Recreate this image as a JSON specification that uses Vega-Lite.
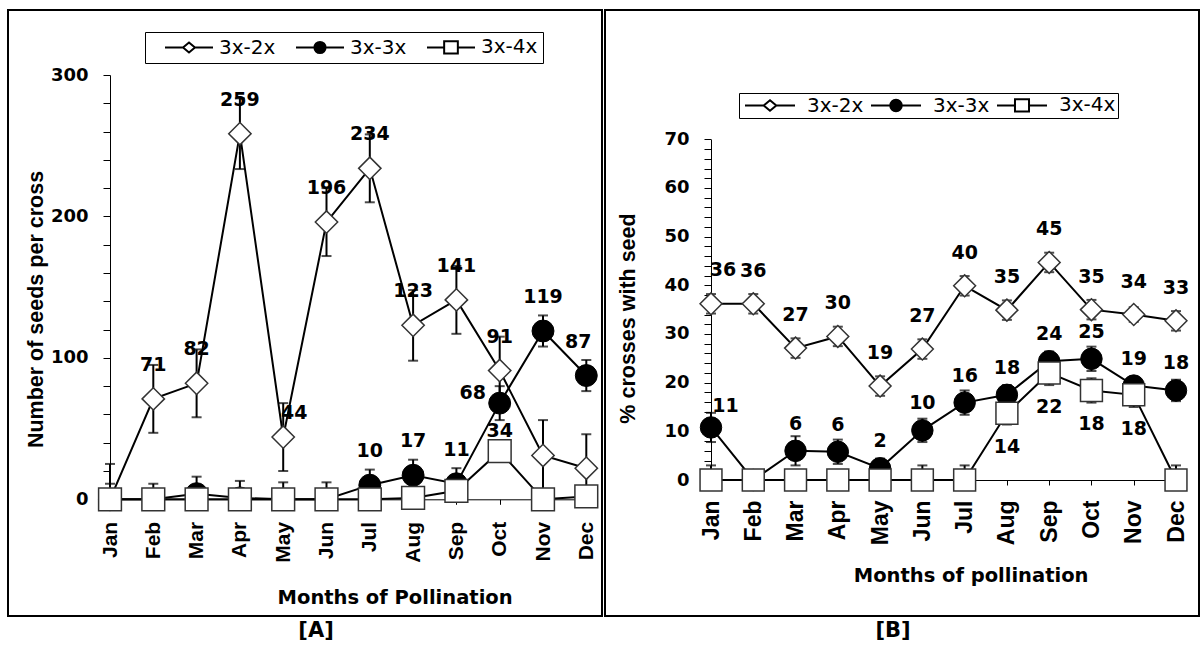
{
  "$schema": "https://vega.github.io/schema/vega-lite/v6.json",
  "background": "white",
  "padding": {"left": 7, "top": 9, "right": 0, "bottom": 0},
  "autosize": {"type": "pad"},
  "spacing": 1,
  "datasets": {
    "A": [
      {"series": "3x-2x", "month": "Jan", "mi": 1, "value": 0, "errhi": 25, "errlo": 0, "label": ""},
      {"series": "3x-2x", "month": "Feb", "mi": 2, "value": 71, "errhi": 24, "errlo": -24, "label": "71"},
      {"series": "3x-2x", "month": "Mar", "mi": 3, "value": 82, "errhi": 24, "errlo": -24, "label": "82"},
      {"series": "3x-2x", "month": "Apr", "mi": 4, "value": 258.5, "errhi": 25, "errlo": -25, "label": "259"},
      {"series": "3x-2x", "month": "May", "mi": 5, "value": 44, "errhi": 24, "errlo": -24, "label": "44"},
      {"series": "3x-2x", "month": "Jun", "mi": 6, "value": 196, "errhi": 24, "errlo": -24, "label": "196"},
      {"series": "3x-2x", "month": "Jul", "mi": 7, "value": 234, "errhi": 24, "errlo": -24, "label": "234"},
      {"series": "3x-2x", "month": "Aug", "mi": 8, "value": 123, "errhi": 25, "errlo": -25, "label": "123"},
      {"series": "3x-2x", "month": "Sep", "mi": 9, "value": 141, "errhi": 24, "errlo": -24, "label": "141"},
      {"series": "3x-2x", "month": "Oct", "mi": 10, "value": 91, "errhi": 24, "errlo": -24, "label": "91"},
      {"series": "3x-2x", "month": "Nov", "mi": 11, "value": 31, "errhi": 25, "errlo": -25, "label": ""},
      {"series": "3x-2x", "month": "Dec", "mi": 12, "value": 22, "errhi": 24, "errlo": -22, "label": ""},
      {"series": "3x-3x", "month": "Jan", "mi": 1, "value": 0, "errhi": 11, "errlo": 0, "label": ""},
      {"series": "3x-3x", "month": "Feb", "mi": 2, "value": 0, "errhi": 11, "errlo": 0, "label": ""},
      {"series": "3x-3x", "month": "Mar", "mi": 3, "value": 4, "errhi": 12, "errlo": -4, "label": ""},
      {"series": "3x-3x", "month": "Apr", "mi": 4, "value": 1, "errhi": 12, "errlo": -1, "label": ""},
      {"series": "3x-3x", "month": "May", "mi": 5, "value": 0, "errhi": 12, "errlo": 0, "label": ""},
      {"series": "3x-3x", "month": "Jun", "mi": 6, "value": 0, "errhi": 12, "errlo": 0, "label": ""},
      {"series": "3x-3x", "month": "Jul", "mi": 7, "value": 10, "errhi": 11, "errlo": -10, "label": "10"},
      {"series": "3x-3x", "month": "Aug", "mi": 8, "value": 17, "errhi": 11, "errlo": -11, "label": "17"},
      {"series": "3x-3x", "month": "Sep", "mi": 9, "value": 11, "errhi": 11, "errlo": -11, "label": "11"},
      {"series": "3x-3x", "month": "Oct", "mi": 10, "value": 68, "errhi": 12, "errlo": -12, "label": "68"},
      {"series": "3x-3x", "month": "Nov", "mi": 11, "value": 119, "errhi": 11, "errlo": -11, "label": "119"},
      {"series": "3x-3x", "month": "Dec", "mi": 12, "value": 87.5, "errhi": 11, "errlo": -11, "label": "87"},
      {"series": "3x-4x", "month": "Jan", "mi": 1, "value": 0, "errhi": 0, "errlo": 0, "label": ""},
      {"series": "3x-4x", "month": "Feb", "mi": 2, "value": 0, "errhi": 0, "errlo": 0, "label": ""},
      {"series": "3x-4x", "month": "Mar", "mi": 3, "value": 0, "errhi": 0, "errlo": 0, "label": ""},
      {"series": "3x-4x", "month": "Apr", "mi": 4, "value": 0, "errhi": 0, "errlo": 0, "label": ""},
      {"series": "3x-4x", "month": "May", "mi": 5, "value": 0, "errhi": 0, "errlo": 0, "label": ""},
      {"series": "3x-4x", "month": "Jun", "mi": 6, "value": 0, "errhi": 0, "errlo": 0, "label": ""},
      {"series": "3x-4x", "month": "Jul", "mi": 7, "value": 0, "errhi": 0, "errlo": 0, "label": ""},
      {"series": "3x-4x", "month": "Aug", "mi": 8, "value": 1, "errhi": 0, "errlo": 0, "label": ""},
      {"series": "3x-4x", "month": "Sep", "mi": 9, "value": 6, "errhi": 0, "errlo": 0, "label": ""},
      {"series": "3x-4x", "month": "Oct", "mi": 10, "value": 34, "errhi": 0, "errlo": 0, "label": "34"},
      {"series": "3x-4x", "month": "Nov", "mi": 11, "value": 0, "errhi": 0, "errlo": 0, "label": ""},
      {"series": "3x-4x", "month": "Dec", "mi": 12, "value": 2, "errhi": 0, "errlo": 0, "label": ""}
    ],
    "B": [
      {"series": "3x-2x", "month": "Jan", "mi": 1, "value": 36.2, "errhi": 2, "errlo": -2, "label": "36"},
      {"series": "3x-2x", "month": "Feb", "mi": 2, "value": 36.2, "errhi": 2, "errlo": -2, "label": "36"},
      {"series": "3x-2x", "month": "Mar", "mi": 3, "value": 27.1, "errhi": 2, "errlo": -2, "label": "27"},
      {"series": "3x-2x", "month": "Apr", "mi": 4, "value": 29.5, "errhi": 2, "errlo": -2, "label": "30"},
      {"series": "3x-2x", "month": "May", "mi": 5, "value": 19.3, "errhi": 2, "errlo": -2, "label": "19"},
      {"series": "3x-2x", "month": "Jun", "mi": 6, "value": 26.9, "errhi": 2, "errlo": -2, "label": "27"},
      {"series": "3x-2x", "month": "Jul", "mi": 7, "value": 39.9, "errhi": 2, "errlo": -2, "label": "40"},
      {"series": "3x-2x", "month": "Aug", "mi": 8, "value": 34.9, "errhi": 2, "errlo": -2, "label": "35"},
      {"series": "3x-2x", "month": "Sep", "mi": 9, "value": 44.7, "errhi": 2, "errlo": -2, "label": "45"},
      {"series": "3x-2x", "month": "Oct", "mi": 10, "value": 35, "errhi": 2, "errlo": -2, "label": "35"},
      {"series": "3x-2x", "month": "Nov", "mi": 11, "value": 34, "errhi": 1.5, "errlo": -1.5, "label": "34"},
      {"series": "3x-2x", "month": "Dec", "mi": 12, "value": 32.7, "errhi": 2, "errlo": -2, "label": "33"},
      {"series": "3x-3x", "month": "Jan", "mi": 1, "value": 10.8, "errhi": 3, "errlo": -3, "label": "11"},
      {"series": "3x-3x", "month": "Feb", "mi": 2, "value": 0, "errhi": 1.5, "errlo": 0, "label": ""},
      {"series": "3x-3x", "month": "Mar", "mi": 3, "value": 6, "errhi": 3, "errlo": -3, "label": "6"},
      {"series": "3x-3x", "month": "Apr", "mi": 4, "value": 5.8, "errhi": 2.5, "errlo": -2.5, "label": "6"},
      {"series": "3x-3x", "month": "May", "mi": 5, "value": 2.4, "errhi": 2, "errlo": -2, "label": "2"},
      {"series": "3x-3x", "month": "Jun", "mi": 6, "value": 10.2, "errhi": 2.4, "errlo": -2.4, "label": "10"},
      {"series": "3x-3x", "month": "Jul", "mi": 7, "value": 15.9, "errhi": 2.5, "errlo": -2.5, "label": "16"},
      {"series": "3x-3x", "month": "Aug", "mi": 8, "value": 17.5, "errhi": 2, "errlo": -2, "label": "18"},
      {"series": "3x-3x", "month": "Sep", "mi": 9, "value": 24.4, "errhi": 2, "errlo": -2, "label": "24"},
      {"series": "3x-3x", "month": "Oct", "mi": 10, "value": 24.9, "errhi": 2.5, "errlo": -2.5, "label": "25"},
      {"series": "3x-3x", "month": "Nov", "mi": 11, "value": 19.4, "errhi": 1.5, "errlo": -1.5, "label": "19"},
      {"series": "3x-3x", "month": "Dec", "mi": 12, "value": 18.4, "errhi": 2.2, "errlo": -2.2, "label": "18"},
      {"series": "3x-4x", "month": "Jan", "mi": 1, "value": 0, "errhi": 3, "errlo": 0, "label": ""},
      {"series": "3x-4x", "month": "Feb", "mi": 2, "value": 0, "errhi": 0, "errlo": 0, "label": ""},
      {"series": "3x-4x", "month": "Mar", "mi": 3, "value": 0, "errhi": 0, "errlo": 0, "label": ""},
      {"series": "3x-4x", "month": "Apr", "mi": 4, "value": 0, "errhi": 0, "errlo": 0, "label": ""},
      {"series": "3x-4x", "month": "May", "mi": 5, "value": 0, "errhi": 0, "errlo": 0, "label": ""},
      {"series": "3x-4x", "month": "Jun", "mi": 6, "value": 0, "errhi": 3, "errlo": 0, "label": ""},
      {"series": "3x-4x", "month": "Jul", "mi": 7, "value": 0, "errhi": 3, "errlo": 0, "label": ""},
      {"series": "3x-4x", "month": "Aug", "mi": 8, "value": 13.7, "errhi": 2.3, "errlo": -2.3, "label": "14"},
      {"series": "3x-4x", "month": "Sep", "mi": 9, "value": 22, "errhi": 2.5, "errlo": -2.5, "label": "22"},
      {"series": "3x-4x", "month": "Oct", "mi": 10, "value": 18.4, "errhi": 2.5, "errlo": -2.5, "label": "18"},
      {"series": "3x-4x", "month": "Nov", "mi": 11, "value": 17.5, "errhi": 2.5, "errlo": -2.5, "label": "18"},
      {"series": "3x-4x", "month": "Dec", "mi": 12, "value": 0, "errhi": 3, "errlo": 0, "label": ""}
    ]
  },
  "hconcat": [
    {
      "width": 594,
      "height": 606,
      "data": {"name": "A"},
      "title": {"text": "[A]", "orient": "bottom", "anchor": "middle", "frame": "group", "dx": 11, "offset": 15, "baseline": "middle", "font": "DejaVu Sans", "fontSize": 21, "fontWeight": "bold", "color": "black"},
      "encoding": {
        "x": {
          "field": "month", "type": "ordinal", "sort": null,
          "scale": {"type": "point", "domain": ["Jan","Feb","Mar","Apr","May","Jun","Jul","Aug","Sep","Oct","Nov","Dec"], "range": [102, 578.3], "padding": 0},
          "axis": {
            "title": "Months of Pollination", "orient": "bottom", "offset": -116.7,
            "domainColor": "black", "domainWidth": 1, "tickSize": 5, "tickWidth": 1, "tickColor": "black",
            "labelAngle": -90, "labelFont": "Liberation Sans", "labelFontWeight": "bold", "labelFontSize": 21, "labelColor": "black", "labelPadding": 17, "labelOverlap": false, "labelFlush": false,
            "titleFont": "DejaVu Sans", "titleFontWeight": "bold", "titleFontSize": 19.5, "titleColor": "black",
            "titleX": 386.6, "titleY": 98.4, "titleAlign": "center", "titleBaseline": "middle", "titleAngle": 0, "grid": false
          }
        },
        "y": {
          "field": "value", "type": "quantitative",
          "scale": {"domain": [0, 300], "range": [489.3, 65], "nice": false, "zero": false},
          "axis": {
            "title": "Number of seeds per cross", "orient": "left", "offset": -102,
            "values": [0,20,40,60,80,100,120,140,160,180,200,220,240,260,280,300],
            "labelExpr": "datum.value % 100 === 0 ? datum.label : ''",
            "domainColor": "black", "domainWidth": 1, "tickSize": 7, "tickWidth": 1, "tickColor": "black",
            "labelFont": "DejaVu Sans", "labelFontWeight": "bold", "labelFontSize": 18, "labelColor": "black", "labelPadding": 15, "labelOverlap": false, "labelFlush": false,
            "titleFont": "Liberation Sans", "titleFontWeight": "bold", "titleFontSize": 21.5, "titleColor": "black",
            "titleX": -74, "titleY": 299, "titleAngle": -90, "titleAlign": "center", "titleBaseline": "middle", "grid": false
          }
        }
      },
      "layer": [
        {"transform": [{"filter": "datum.errhi > 0"}], "mark": {"type": "errorbar", "color": "black", "ticks": {"size": 10, "thickness": 2}, "rule": {"strokeWidth": 2}}, "encoding": {"yError": {"field": "errhi"}, "yError2": {"field": "errlo"}, "detail": {"field": "series"}}},
        {"mark": {"type": "line", "color": "black", "strokeWidth": 2}, "encoding": {"detail": {"field": "series"}, "order": {"field": "mi", "type": "quantitative"}}},
        {"transform": [{"filter": "datum.series === '3x-2x'"}], "mark": {"type": "point", "shape": "diamond", "filled": true, "fill": "white", "stroke": "#333333", "strokeWidth": 1.5, "size": 500, "opacity": 1}},
        {"transform": [{"filter": "datum.series === '3x-3x'"}], "mark": {"type": "point", "shape": "circle", "filled": true, "fill": "black", "stroke": "black", "strokeWidth": 1, "size": 480, "opacity": 1}},
        {"transform": [{"filter": "datum.series === '3x-4x'"}], "mark": {"type": "point", "shape": "square", "filled": true, "fill": "white", "stroke": "#333333", "strokeWidth": 1.5, "size": 520, "opacity": 1}},
        {"transform": [{"filter": "datum.label !== '' && !((datum.series === '3x-2x' && datum.month === 'May') || (datum.series === '3x-3x' && (datum.month === 'Oct' || datum.month === 'Dec')) || (datum.series === '3x-4x' && datum.month === 'Oct'))"}], "mark": {"type": "text", "dy": -34}, "encoding": {"text": {"field": "label"}}},
        {"transform": [{"filter": "datum.series === '3x-2x' && datum.month === 'May'"}], "mark": {"type": "text", "dx": 11, "dy": -24.5}, "encoding": {"text": {"field": "label"}}},
        {"transform": [{"filter": "datum.series === '3x-3x' && datum.month === 'Dec'"}], "mark": {"type": "text", "dx": -8, "dy": -34}, "encoding": {"text": {"field": "label"}}},
        {"transform": [{"filter": "datum.series === '3x-3x' && datum.month === 'Oct'"}], "mark": {"type": "text", "dx": -27, "dy": -10}, "encoding": {"text": {"field": "label"}}},
        {"transform": [{"filter": "datum.series === '3x-4x' && datum.month === 'Oct'"}], "mark": {"type": "text", "dy": -20.5}, "encoding": {"text": {"field": "label"}}},
        {
          "transform": [{"filter": "false"}],
          "mark": {"type": "point", "filled": true, "strokeWidth": 2, "opacity": 1},
          "encoding": {
            "shape": {"field": "series", "type": "nominal",
              "scale": {"domain": ["3x-2x","3x-3x","3x-4x"], "range": ["M-2.667,0L-0.66,0M0.66,0L2.667,0M0,-0.55L0.66,0L0,0.55L-0.66,0Z", "M-2.667,0L-0.62,0M0.62,0L2.667,0M-0.62,0A0.62,0.62,0,1,0,0.62,0A0.62,0.62,0,1,0,-0.62,0Z", "M-2.667,0L-0.76,0M0.76,0L2.667,0M-0.76,-0.69L0.76,-0.69L0.76,0.69L-0.76,0.69Z"]},
              "legend": {"orient": "none", "legendX": 137, "legendY": 22, "direction": "horizontal", "title": " ", "titleOrient": "left", "titleFontSize": 1, "titlePadding": 29, "padding": 5, "strokeColor": "black", "fillColor": "white", "symbolSize": 324, "symbolStrokeWidth": 2, "symbolStrokeColor": "black", "labelFont": "DejaVu Sans", "labelFontSize": 20, "labelColor": "black", "labelOffset": 20, "columnPadding": 15}},
            "fill": {"field": "series", "type": "nominal",
              "scale": {"domain": ["3x-2x","3x-3x","3x-4x"], "range": ["white","black","white"]},
              "legend": {"orient": "none", "legendX": 137, "legendY": 22, "direction": "horizontal", "title": " ", "titleOrient": "left", "titleFontSize": 1, "titlePadding": 29, "padding": 5, "strokeColor": "black", "fillColor": "white", "symbolSize": 324, "symbolStrokeWidth": 2, "symbolStrokeColor": "black", "labelFont": "DejaVu Sans", "labelFontSize": 20, "labelColor": "black", "labelOffset": 20, "columnPadding": 15}},
            "stroke": {"field": "series", "type": "nominal",
              "scale": {"domain": ["3x-2x","3x-3x","3x-4x"], "range": ["black","black","black"]},
              "legend": {"orient": "none", "legendX": 137, "legendY": 22, "direction": "horizontal", "title": " ", "titleOrient": "left", "titleFontSize": 1, "titlePadding": 29, "padding": 5, "strokeColor": "black", "fillColor": "white", "symbolSize": 324, "symbolStrokeWidth": 2, "symbolStrokeColor": "black", "labelFont": "DejaVu Sans", "labelFontSize": 20, "labelColor": "black", "labelOffset": 20, "columnPadding": 15}}
          }
        }
      ]
    },
    {
      "width": 594,
      "height": 606,
      "data": {"name": "B"},
      "title": {"text": "[B]", "orient": "bottom", "anchor": "middle", "frame": "group", "dx": -9, "offset": 15, "baseline": "middle", "font": "DejaVu Sans", "fontSize": 21, "fontWeight": "bold", "color": "black"},
      "encoding": {
        "x": {
          "field": "month", "type": "ordinal", "sort": null,
          "scale": {"type": "point", "domain": ["Jan","Feb","Mar","Apr","May","Jun","Jul","Aug","Sep","Oct","Nov","Dec"], "range": [106, 571], "padding": 0},
          "axis": {
            "title": "Months of pollination", "orient": "bottom", "offset": -136,
            "domainColor": "black", "domainWidth": 1, "tickSize": 5, "tickWidth": 1, "tickColor": "black",
            "labelAngle": -90, "labelFont": "Liberation Sans", "labelFontWeight": "bold", "labelFontSize": 23, "labelColor": "black", "labelPadding": 15, "labelOverlap": false, "labelFlush": false,
            "titleFont": "DejaVu Sans", "titleFontWeight": "bold", "titleFontSize": 19.5, "titleColor": "black",
            "titleX": 365.6, "titleY": 95, "titleAlign": "center", "titleBaseline": "middle", "titleAngle": 0, "grid": false
          }
        },
        "y": {
          "field": "value", "type": "quantitative",
          "scale": {"domain": [0, 70], "range": [470, 129.3], "nice": false, "zero": false},
          "axis": {
            "title": "% crosses with seed", "orient": "left", "offset": -106,
            "values": [0,2,4,6,8,10,12,14,16,18,20,22,24,26,28,30,32,34,36,38,40,42,44,46,48,50,52,54,56,58,60,62,64,66,68,70],
            "labelExpr": "datum.value % 10 === 0 ? datum.label : ''",
            "domainColor": "black", "domainWidth": 1, "tickSize": 7, "tickWidth": 1, "tickColor": "black",
            "labelFont": "DejaVu Sans", "labelFontWeight": "bold", "labelFontSize": 18, "labelColor": "black", "labelPadding": 15, "labelOverlap": false, "labelFlush": false,
            "titleFont": "Liberation Sans", "titleFontWeight": "bold", "titleFontSize": 21.5, "titleColor": "black",
            "titleX": -83, "titleY": 308, "titleAngle": -90, "titleAlign": "center", "titleBaseline": "middle", "grid": false
          }
        }
      },
      "layer": [
        {"transform": [{"filter": "datum.errhi > 0"}], "mark": {"type": "errorbar", "color": "black", "ticks": {"size": 10, "thickness": 2}, "rule": {"strokeWidth": 2}}, "encoding": {"yError": {"field": "errhi"}, "yError2": {"field": "errlo"}, "detail": {"field": "series"}}},
        {"mark": {"type": "line", "color": "black", "strokeWidth": 2}, "encoding": {"detail": {"field": "series"}, "order": {"field": "mi", "type": "quantitative"}}},
        {"transform": [{"filter": "datum.series === '3x-2x'"}], "mark": {"type": "point", "shape": "diamond", "filled": true, "fill": "white", "stroke": "#333333", "strokeWidth": 1.5, "size": 480, "opacity": 1}},
        {"transform": [{"filter": "datum.series === '3x-3x'"}], "mark": {"type": "point", "shape": "circle", "filled": true, "fill": "black", "stroke": "black", "strokeWidth": 1, "size": 460, "opacity": 1}},
        {"transform": [{"filter": "datum.series === '3x-4x'"}], "mark": {"type": "point", "shape": "square", "filled": true, "fill": "white", "stroke": "#333333", "strokeWidth": 1.5, "size": 480, "opacity": 1}},
        {"transform": [{"filter": "datum.series === '3x-2x' && datum.month !== 'Jan'"}], "mark": {"type": "text", "dy": -33}, "encoding": {"text": {"field": "label"}}},
        {"transform": [{"filter": "datum.series === '3x-2x' && datum.month === 'Jan'"}], "mark": {"type": "text", "dx": 12, "dy": -34}, "encoding": {"text": {"field": "label"}}},
        {"transform": [{"filter": "datum.series === '3x-3x' && datum.label !== '' && datum.month !== 'Jan'"}], "mark": {"type": "text", "dy": -27}, "encoding": {"text": {"field": "label"}}},
        {"transform": [{"filter": "datum.series === '3x-3x' && datum.month === 'Jan'"}], "mark": {"type": "text", "dx": 14.5, "dy": -21}, "encoding": {"text": {"field": "label"}}},
        {"transform": [{"filter": "datum.series === '3x-4x' && datum.label !== ''"}], "mark": {"type": "text", "dy": 34}, "encoding": {"text": {"field": "label"}}},
        {
          "transform": [{"filter": "false"}],
          "mark": {"type": "point", "filled": true, "strokeWidth": 2, "opacity": 1},
          "encoding": {
            "shape": {"field": "series", "type": "nominal",
              "scale": {"domain": ["3x-2x","3x-3x","3x-4x"], "range": ["M-2.778,0L-0.7,0M0.7,0L2.778,0M0,-0.59L0.7,0L0,0.59L-0.7,0Z", "M-2.778,0L-0.64,0M0.64,0L2.778,0M-0.64,0A0.64,0.64,0,1,0,0.64,0A0.64,0.64,0,1,0,-0.64,0Z", "M-2.778,0L-0.78,0M0.78,0L2.778,0M-0.78,-0.69L0.78,-0.69L0.78,0.69L-0.78,0.69Z"]},
              "legend": {"orient": "none", "legendX": 134, "legendY": 83, "direction": "horizontal", "title": " ", "titleOrient": "left", "titleFontSize": 1, "titlePadding": 19, "padding": 2, "strokeColor": "black", "fillColor": "white", "symbolSize": 324, "symbolStrokeWidth": 2, "symbolStrokeColor": "black", "labelFont": "DejaVu Sans", "labelFontSize": 20, "labelColor": "black", "labelOffset": 27, "columnPadding": 2}},
            "fill": {"field": "series", "type": "nominal",
              "scale": {"domain": ["3x-2x","3x-3x","3x-4x"], "range": ["white","black","white"]},
              "legend": {"orient": "none", "legendX": 134, "legendY": 83, "direction": "horizontal", "title": " ", "titleOrient": "left", "titleFontSize": 1, "titlePadding": 19, "padding": 2, "strokeColor": "black", "fillColor": "white", "symbolSize": 324, "symbolStrokeWidth": 2, "symbolStrokeColor": "black", "labelFont": "DejaVu Sans", "labelFontSize": 20, "labelColor": "black", "labelOffset": 27, "columnPadding": 2}},
            "stroke": {"field": "series", "type": "nominal",
              "scale": {"domain": ["3x-2x","3x-3x","3x-4x"], "range": ["black","black","black"]},
              "legend": {"orient": "none", "legendX": 134, "legendY": 83, "direction": "horizontal", "title": " ", "titleOrient": "left", "titleFontSize": 1, "titlePadding": 19, "padding": 2, "strokeColor": "black", "fillColor": "white", "symbolSize": 324, "symbolStrokeWidth": 2, "symbolStrokeColor": "black", "labelFont": "DejaVu Sans", "labelFontSize": 20, "labelColor": "black", "labelOffset": 27, "columnPadding": 2}}
          }
        }
      ]
    }
  ],
  "resolve": {"scale": {"x": "independent", "y": "independent", "shape": "independent", "fill": "independent", "stroke": "independent"}},
  "config": {
    "view": {"stroke": "black", "strokeWidth": 2},
    "axis": {"grid": false},
    "text": {"font": "DejaVu Sans", "fontWeight": "bold", "fontSize": 19, "color": "black", "align": "center", "baseline": "middle"}
  }
}
